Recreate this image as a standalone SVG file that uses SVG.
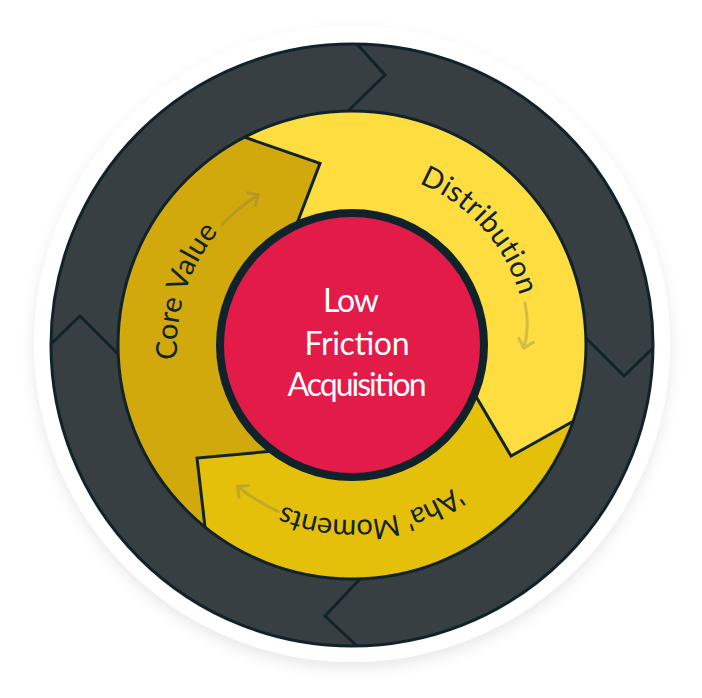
<svg xmlns="http://www.w3.org/2000/svg" width="702" height="698" viewBox="0 0 702 698">
  <defs>
    <filter id="sh" x="-15%" y="-15%" width="130%" height="135%">
      <feDropShadow dx="0" dy="6" stdDeviation="7" flood-color="#000" flood-opacity="0.09"/>
    </filter>
    <marker id="ah" markerUnits="userSpaceOnUse" markerWidth="20" markerHeight="20" refX="0" refY="0" orient="auto" overflow="visible">
      <path d="M-8,-7.5 L0,0 L-8,7.5" fill="none" stroke="#78785a" stroke-width="3" stroke-linecap="round" stroke-linejoin="round"/>
    </marker>
    <path id="tp" d="M 527 345 A 175 175 0 1 1 177 345 A 175 175 0 1 1 527 345"/>
  </defs>
  <style>
    .line { fill: none; stroke: #10232a; stroke-width: 3; stroke-linejoin: miter; }
    .lbl { font-family: Lato, "Open Sans", "Noto Sans", sans-serif; font-size: 29px; fill: #12232b; }
    .ctr { font-family: Lato, "Open Sans", "Noto Sans", sans-serif; font-size: 32px; fill: #ffffff; text-anchor: middle; }
    .arr { fill: none; stroke: #78785a; stroke-width: 3; stroke-linecap: round; }
  </style>

  <g id="background">
    <circle cx="352" cy="344" r="318" fill="#ffffff" filter="url(#sh)"/>
  </g>

  <g id="outer-ring">
    <circle cx="352" cy="345" r="301" fill="#383f43" stroke="#10232a" stroke-width="3"/>
    <path class="line" d="M 357 44 L 385 75 L 348 111"/>
    <path class="line" d="M 653 348 L 624 376 L 586 338"/>
    <path class="line" d="M 357 646 L 325 616 L 360 579"/>
    <path class="line" d="M 52 343 L 80 316 L 118 354"/>
  </g>

  <g id="node-distribution">
    <path d="M 244.4 137.2 A 234 234 0 0 1 573.2 421.3 L 511 456 L 470.7 387.5 L 352 345 L 291.8 237 L 320 163.3 Z" fill="#fddd3f"/>
  </g>
  <g id="node-aha-moments">
    <path d="M 573.2 421.3 A 234 234 0 0 1 205 527 L 197 458 L 282.8 450.2 L 352 345 L 470.7 387.5 L 511 456 Z" fill="#e4c00b"/>
  </g>
  <g id="node-core-value">
    <path d="M 205 527 A 234 234 0 0 1 244.4 137.2 L 320 163.3 L 291.8 237 L 352 345 L 282.8 450.2 L 197 458 Z" fill="#d1a90d"/>
  </g>

  <g id="segment-borders">
    <circle cx="352" cy="345" r="234" fill="none" stroke="#10232a" stroke-width="3"/>
    <path class="line" d="M 244.4 137.2 L 320 163.3 L 291.8 237"/>
    <path class="line" d="M 573.2 421.3 L 511 456 L 470.7 387.5"/>
    <path class="line" d="M 205 527 L 197 458 L 282.8 450.2"/>
  </g>

  <g id="node-center">
    <circle cx="352" cy="345" r="132" fill="#e31b48" stroke="#10232a" stroke-width="8"/>
    <text class="ctr" x="351" y="312" textLength="56" lengthAdjust="spacing">Low</text>
    <text class="ctr" x="357" y="355" textLength="105" lengthAdjust="spacing">Friction</text>
    <text class="ctr" x="357" y="396" textLength="139" lengthAdjust="spacing">Acquisition</text>
  </g>

  <g id="labels">
    <text class="lbl" letter-spacing="0"><textPath href="#tp" startOffset="603.8" text-anchor="middle">Core Value</textPath></text>
    <text class="lbl" letter-spacing="0.4"><textPath href="#tp" startOffset="971.3" text-anchor="middle">Distribution</textPath></text>
    <text class="lbl" letter-spacing="-0.6"><textPath href="#tp" startOffset="255" text-anchor="middle">'Aha' Moments</textPath></text>
  </g>

  <g id="connectors" opacity="0.32">
    <path class="arr" d="M 221.9 225 A 177 177 0 0 1 258.2 194.9" marker-end="url(#ah)"/>
    <path class="arr" d="M 525 303 Q 530 326 524 348" marker-end="url(#ah)"/>
    <path class="arr" d="M 278 511.3 A 182 182 0 0 1 237.5 486.4" marker-end="url(#ah)"/>
  </g>
</svg>
